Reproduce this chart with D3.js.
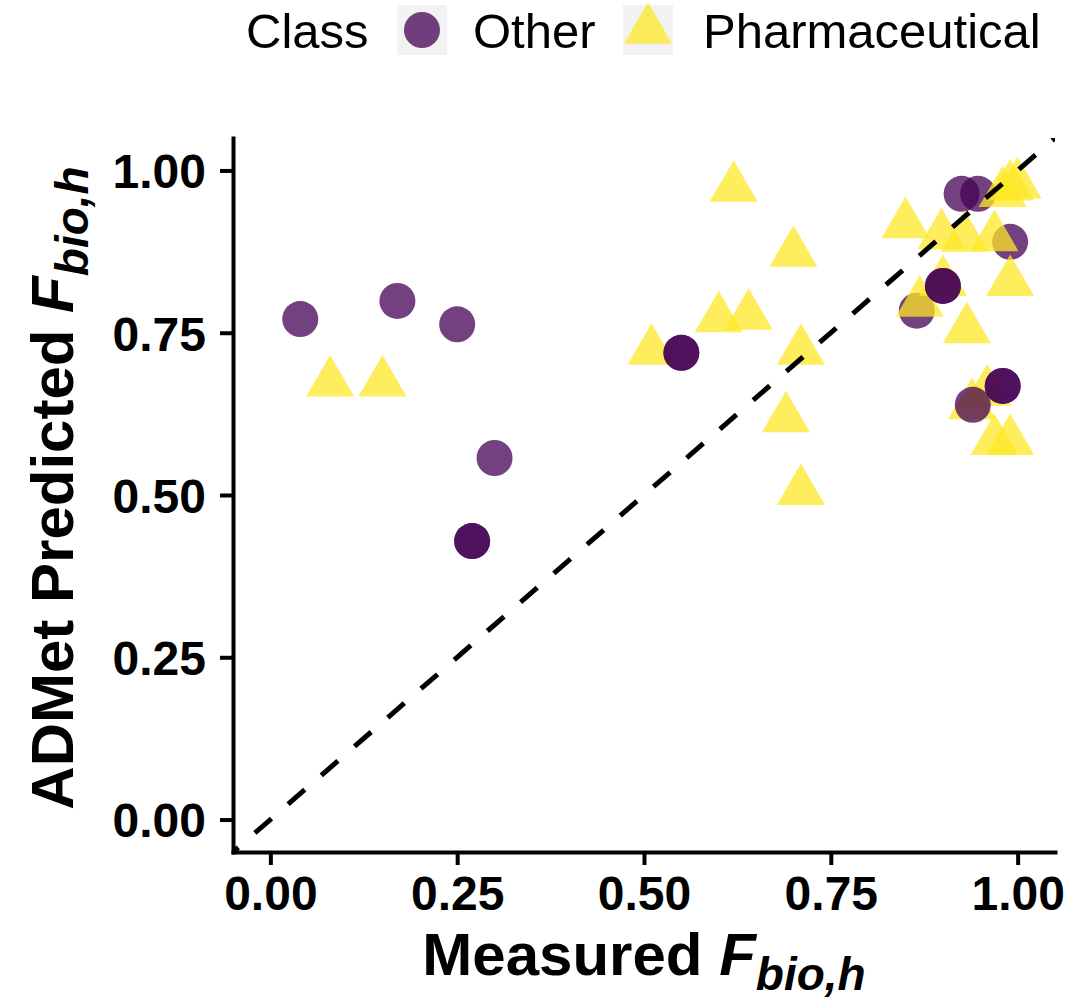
<!DOCTYPE html>
<html>
<head>
<meta charset="utf-8">
<script src="https://cdn.jsdelivr.net/npm/d3@7"></script>
<style>
  html, body { margin: 0; padding: 0; background: #ffffff; }
  svg { display: block; font-family: "Liberation Sans", Arial, Helvetica, sans-serif; }
</style>
</head>
<body>
<svg id="chart" width="1091" height="999"></svg>
<script>
// Measured vs. predicted human oral bioavailability, listed in drawing order
const measured = [
  0.04, 0.17, 0.25, 0.30, 0.27, 0.27, 0.925, 0.947, 0.99, 0.865,
  0.08, 0.15, 0.51, 0.60, 0.64, 0.62, 0.70, 0.71, 0.69, 0.71,
  0.85, 0.898, 0.929, 0.969, 0.99, 0.90, 0.869, 0.932, 0.98, 0.99,
  1.00, 0.959, 0.939, 0.969, 0.99,
  0.55, 0.55, 0.90, 0.90, 0.98, 0.98, 0.94
];
const predicted = [
  0.771, 0.799, 0.763, 0.557, 0.429, 0.429, 0.964, 0.964, 0.890, 0.784,
  0.673, 0.673, 0.722, 0.772, 0.776, 0.973, 0.873, 0.722, 0.618, 0.506,
  0.917, 0.900, 0.896, 0.897, 0.828, 0.828, 0.796, 0.755, 0.965, 0.975,
  0.978, 0.659, 0.638, 0.583, 0.583,
  0.719, 0.719, 0.822, 0.822, 0.668, 0.668, 0.639
];
const compoundClass = [
  "Other", "Other", "Other", "Other", "Other", "Other", "Other", "Other", "Other", "Other",
  "Pharmaceutical", "Pharmaceutical", "Pharmaceutical", "Pharmaceutical", "Pharmaceutical",
  "Pharmaceutical", "Pharmaceutical", "Pharmaceutical", "Pharmaceutical", "Pharmaceutical",
  "Pharmaceutical", "Pharmaceutical", "Pharmaceutical", "Pharmaceutical", "Pharmaceutical",
  "Pharmaceutical", "Pharmaceutical", "Pharmaceutical", "Pharmaceutical", "Pharmaceutical",
  "Pharmaceutical", "Pharmaceutical", "Pharmaceutical", "Pharmaceutical", "Pharmaceutical",
  "Other", "Other", "Other", "Other", "Other", "Other", "Other"
];
const classes = ["Other", "Pharmaceutical"];
const classColors = ["#440154", "#FDE725"];
const xTicks = [0, 0.25, 0.5, 0.75, 1];
const yTicks = [0, 0.25, 0.5, 0.75, 1];

const points = measured.map((m, i) => ({ x: m, y: predicted[i], cls: compoundClass[i] }));

const svg = d3.select("#chart");
svg.append("rect").attr("width", 1091).attr("height", 999).attr("fill", "#ffffff");

const x = d3.scaleLinear().domain([-0.05, 1.05]).range([233, 1055]);
const y = d3.scaleLinear().domain([-0.05, 1.05]).range([852, 138]);
const color = d3.scaleOrdinal().domain(classes).range(classColors);

// marker shapes: filled circle and filled triangle centred on its centroid
const R = 18;
const side = 48;
const h = side * Math.sqrt(3) / 2;
const triPath = `M0,${-2 * h / 3}L${side / 2},${h / 3}L${-side / 2},${h / 3}Z`;

function drawMarker(sel, cls) {
  if (cls === "Other") {
    sel.append("circle").attr("r", R);
  } else {
    sel.append("path").attr("d", triPath);
  }
}

svg.append("defs").append("clipPath").attr("id", "panel")
  .append("rect").attr("x", 233).attr("y", 138).attr("width", 822).attr("height", 714);

const panel = svg.append("g").attr("clip-path", "url(#panel)");

const marks = panel.append("g").selectAll("g.pt")
  .data(points)
  .join("g")
  .attr("class", "pt")
  .attr("transform", d => `translate(${x(d.x)},${y(d.y)})`)
  .attr("fill", d => color(d.cls))
  .attr("fill-opacity", 0.75);
marks.each(function (d) { drawMarker(d3.select(this), d.cls); });

// identity line y = x
panel.append("line")
  .attr("x1", x(-0.05)).attr("y1", y(-0.05))
  .attr("x2", x(1.05)).attr("y2", y(1.05))
  .attr("stroke", "#000").attr("stroke-width", 5)
  .attr("stroke-dasharray", "22,22").attr("stroke-dashoffset", 15);

// axes
const fmt = d3.format(".2f");
const gx = svg.append("g").attr("transform", "translate(0,852)")
  .call(d3.axisBottom(x).tickValues(xTicks).tickFormat(fmt).tickSize(13).tickSizeOuter(0).tickPadding(11));
const gy = svg.append("g").attr("transform", "translate(233,0)")
  .call(d3.axisLeft(y).tickValues(yTicks).tickFormat(fmt).tickSize(13).tickSizeOuter(0).tickPadding(14));

[gx, gy].forEach(g => {
  g.select(".domain").attr("stroke", "#000").attr("stroke-width", 4).attr("stroke-linecap", "square");
  g.selectAll(".tick line").attr("stroke", "#000").attr("stroke-width", 4);
  g.selectAll(".tick text")
    .attr("fill", "#000")
    .attr("font-size", 48)
    .attr("font-weight", "bold")
    .attr("font-family", "'Liberation Sans', Arial, sans-serif");
});
gy.selectAll(".tick text").attr("dy", "0.36em");

// axis titles with italic subscripted F
function title(sel, main) {
  sel.attr("font-size", 60).attr("font-weight", "bold").attr("fill", "#000").attr("text-anchor", "middle");
  sel.append("tspan").text(main + " ");
  sel.append("tspan").attr("font-style", "italic").text("F");
  sel.append("tspan").attr("font-style", "italic").attr("font-size", 46).attr("dy", 15).text("bio,h");
}
title(svg.append("text").attr("x", 644).attr("y", 975), "Measured");
title(svg.append("text").attr("transform", "translate(73,488) rotate(-90)"), "ADMet Predicted");

// legend
const legend = svg.append("g");
legend.append("text").attr("x", 246).attr("y", 48).attr("font-size", 49).attr("fill", "#000").text("Class");
const keyX = [397, 623];
const labelX = [473, 703];
classes.forEach((c, i) => {
  legend.append("rect").attr("x", keyX[i]).attr("y", 5).attr("width", 50).attr("height", 50).attr("fill", "#f2f2f2");
  const k = legend.append("g")
    .attr("transform", `translate(${keyX[i] + 25},30)`)
    .attr("fill", color(c)).attr("fill-opacity", 0.75);
  drawMarker(k, c);
  legend.append("text").attr("x", labelX[i]).attr("y", 48).attr("font-size", 49).attr("fill", "#000").text(c);
});
</script>
</body>
</html>
